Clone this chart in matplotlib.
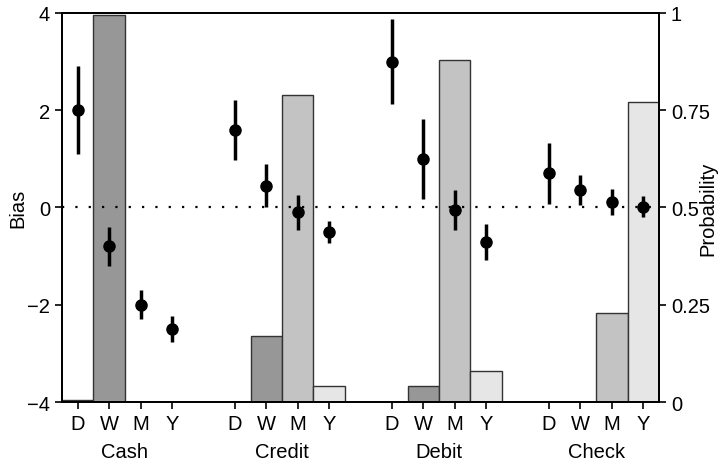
import matplotlib
matplotlib.use("Agg")
import matplotlib.pyplot as plt
import numpy as np

plt.rcParams['font.family'] = ['Liberation Sans', 'DejaVu Sans']

groups = ['Cash', 'Credit', 'Debit', 'Check']
horizons = ['D', 'W', 'M', 'Y']

# bias estimates and half-width of the error bars, one row per group
bias = [[2.0, -0.8, -2.0, -2.5],
        [1.6, 0.45, -0.1, -0.5],
        [3.0, 1.0, -0.05, -0.7],
        [0.7, 0.36, 0.12, 0.02]]
bias_err = [[0.9, 0.4, 0.3, 0.27],
            [0.62, 0.45, 0.36, 0.22],
            [0.87, 0.82, 0.41, 0.37],
            [0.62, 0.31, 0.27, 0.22]]

# probability of each horizon (bars)
prob = [[0.005, 0.995, 0.0, 0.0],
        [0.0, 0.17, 0.79, 0.04],
        [0.0, 0.04, 0.88, 0.08],
        [0.0, 0.0, 0.23, 0.77]]

bar_colors = ['white', '#979797', '#c3c3c3', '#e6e6e6']
fs = 14.5

fig = plt.figure(figsize=(7.22, 4.6), dpi=100)
ax = fig.add_axes([0.0859, 0.1239, 0.8268, 0.8457])

# x positions: 4 slots per group, gap of one slot between groups
xpos = []
for g in range(len(groups)):
    xpos.append([g * 5 + i for i in range(len(horizons))])

# bars on the probability axis (right)
for g in range(len(groups)):
    for i in range(len(horizons)):
        if prob[g][i] > 0:
            ax.bar(xpos[g][i], prob[g][i], width=1.0, color=bar_colors[i],
                   edgecolor='#333333', linewidth=1.0)

# bias points on the left axis
ax2 = ax.twinx()
ax2.axhline(0, color='black', linestyle=(0, (1, 5)), linewidth=1.6, zorder=1)
for g in range(len(groups)):
    ax2.errorbar(xpos[g], bias[g], yerr=bias_err[g], fmt='o', color='black',
                 markersize=8, elinewidth=2.5, capsize=0, zorder=3)

ax.set_ylim(0, 1)
ax.set_yticks([0, 0.25, 0.5, 0.75, 1])
ax.set_yticklabels(['0', '0.25', '0.5', '0.75', '1'])
ax.tick_params(axis='y', left=False, labelleft=False, right=True, labelright=True)
ax.yaxis.set_label_position('right')
ax.set_ylabel('Probability', fontsize=fs)
ax.yaxis.set_label_coords(1.066, 0.5)

ax2.set_ylim(-4, 4)
ax2.set_yticks([-4, -2, 0, 2, 4])
ax2.tick_params(axis='y', left=True, labelleft=True, right=False, labelright=False)
ax2.yaxis.set_label_position('left')
ax2.set_ylabel('Bias', fontsize=fs)
ax2.yaxis.set_label_coords(-0.058, 0.5)

all_x = [x for row in xpos for x in row]
ax.set_xlim(-0.5, 18.5)
ax.set_xticks(all_x)
ax.set_xticklabels(horizons * len(groups))
for g, name in enumerate(groups):
    ax.text(np.mean(xpos[g]), -0.126, name, transform=ax.get_xaxis_transform(),
            ha='center', va='center', fontsize=fs)

for a in (ax, ax2):
    a.tick_params(labelsize=fs, length=5, width=1.2, direction='out')
    for s in a.spines.values():
        s.set_linewidth(1.3)

fig.savefig('out.png', dpi=100)
